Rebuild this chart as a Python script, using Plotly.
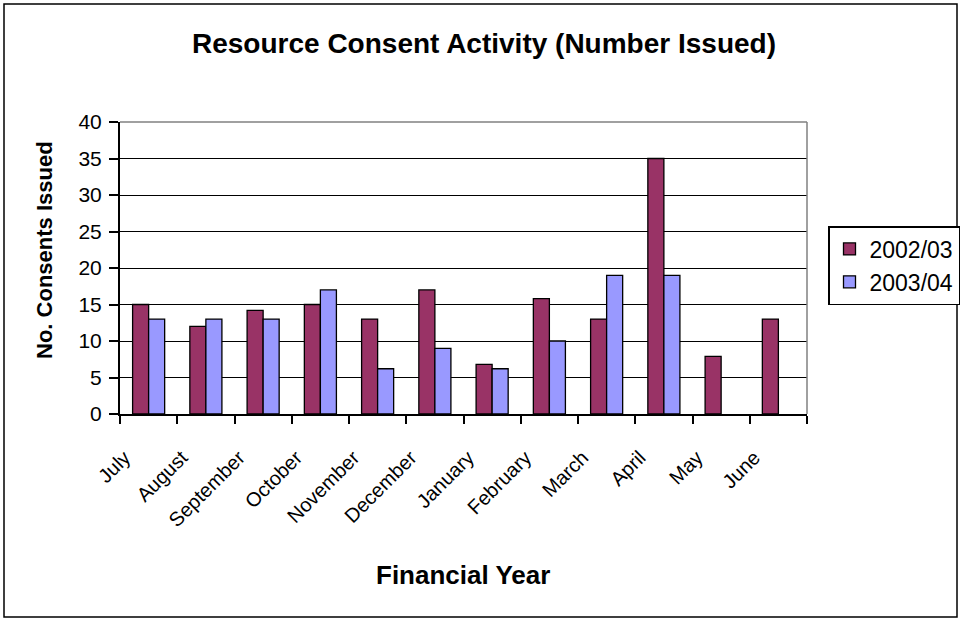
import plotly.graph_objects as go

months = ["July", "August", "September", "October", "November", "December",
          "January", "February", "March", "April", "May", "June"]
series_2002 = [15, 12, 14.2, 15, 13, 17, 6.8, 15.8, 13, 35, 7.9, 13]
series_2003 = [13, 13, 13, 17, 6.2, 9, 6.2, 10, 19, 19, None, None]
y_ticks = [0, 5, 10, 15, 20, 25, 30, 35, 40]

W, H = 962, 621
L, R, T, B = 120, 155, 122, 207
pw, ph = W - L - R, H - T - B

def px_x(p):
    return (p - L) / pw

def px_y(p):
    return (H - B - p) / ph

FONT = "Arial, Liberation Sans, sans-serif"

fig = go.Figure()
fig.add_trace(go.Bar(name="2002/03", x=months, y=series_2002,
                     marker=dict(color="#993366", line=dict(color="black", width=1.3))))
fig.add_trace(go.Bar(name="2003/04", x=months, y=series_2003,
                     marker=dict(color="#9999FF", line=dict(color="black", width=1.3))))

fig.update_layout(
    width=W, height=H,
    margin=dict(l=L, r=R, t=T, b=B, autoexpand=False),
    paper_bgcolor="white", plot_bgcolor="white",
    barmode="group", bargap=0.44, bargroupgap=0,
    font=dict(family=FONT, color="black"),
    title=dict(text="<b>Resource Consent Activity (Number Issued)</b>",
               x=484 / W, xanchor="center", y=1 - 43 / H, yanchor="middle",
               font=dict(size=28, family=FONT)),
    xaxis=dict(
        tickangle=-45, tickson="boundaries", ticks="outside", ticklen=8,
        tickcolor="black", tickwidth=1.5, showline=True, linecolor="black", linewidth=2,
        mirror=False, showgrid=False, tickfont=dict(size=20, family=FONT),
        ticklabelshift=-24, ticklabelstandoff=22, automargin=False,
    ),
    yaxis=dict(
        range=[0, 40], tickvals=y_ticks, ticks="outside", ticklen=9,
        tickcolor="black", tickwidth=1.5, showline=True, linecolor="black", linewidth=2,
        showgrid=True, gridcolor="black", gridwidth=1,
        tickfont=dict(size=21, family=FONT), ticklabelstandoff=3,
        zeroline=False, automargin=False,
    ),
    legend=dict(
        x=px_x(828), y=px_y(226), xanchor="left", yanchor="top",
        bordercolor="black", borderwidth=1.5, bgcolor="white",
        font=dict(size=23, family=FONT), tracegroupgap=0,
    ),
    showlegend=True,
)

# axis titles
fig.add_annotation(text="<b>Financial Year</b>", xref="paper", yref="paper",
                   x=px_x(463), y=px_y(575), xanchor="center", yanchor="middle",
                   showarrow=False, font=dict(size=26, family=FONT))
fig.add_annotation(text="<b>No. Consents Issued</b>", xref="paper", yref="paper",
                   x=px_x(44), y=px_y(250), xanchor="center", yanchor="middle",
                   textangle=-90, showarrow=False, font=dict(size=22, family=FONT))

# plot-area border (top/right grey)
fig.add_shape(type="line", xref="paper", yref="paper", x0=0, x1=1, y0=1, y1=1,
              line=dict(color="#808080", width=1.5))
fig.add_shape(type="line", xref="paper", yref="paper", x0=1, x1=1, y0=0, y1=1,
              line=dict(color="#808080", width=1.5))
# outer chart border
fig.add_shape(type="rect", xref="paper", yref="paper",
              x0=px_x(4), x1=px_x(957), y0=px_y(617), y1=px_y(4),
              line=dict(color="black", width=1.5), fillcolor="rgba(0,0,0,0)")

fig.write_html(
    "out.html",
    config={"displayModeBar": False},
    post_script="document.body.style.margin='0px';"
                "document.body.style.overflow='hidden';"
                "document.documentElement.style.overflow='hidden';",
)
